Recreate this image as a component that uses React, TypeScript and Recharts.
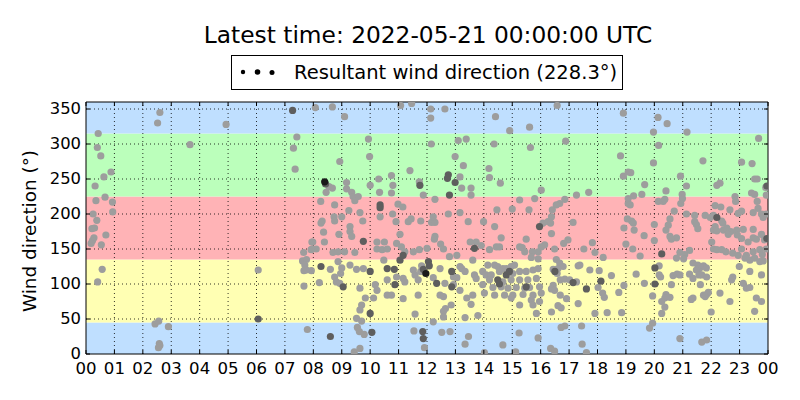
import React from "react";
import { ScatterChart, Scatter, XAxis, YAxis, ReferenceArea, ReferenceLine } from "recharts";

// x axis: hours of the day, y axis: wind direction in degrees
const HOUR_TICKS = [0, 1, 2, 3, 4, 5, 6, 7, 8, 9, 10, 11, 12, 13, 14, 15, 16, 17, 18, 19, 20, 21, 22, 23, 24];
const HOUR_LABELS = ["00", "01", "02", "03", "04", "05", "06", "07", "08", "09", "10", "11", "12", "13", "14", "15", "16", "17", "18", "19", "20", "21", "22", "23", "00"];
const DIR_TICKS = [0, 50, 100, 150, 200, 250, 300, 350];

// sector bands (N, E, S, W, N)
const BAND_LOW = [0, 45, 135, 225, 315];
const BAND_HIGH = [45, 135, 225, 315, 360];
const BAND_COLORS = ["#bfdfff", "#ffffb3", "#ffb3b6", "#bbffbb", "#bfdfff"];

const LEGEND_VALUE = 228.3;

// [hour, direction]
const early: [number, number][] = [
  [0.43, 315], [0.4, 295], [0.52, 283], [0.88, 260], [0.63, 253], [0.32, 240], [0.67, 224], [0.35, 219], [0.93, 217],
  [0.94, 203], [0.25, 200], [0.38, 191], [0.3, 180], [0.21, 179], [0.7, 170], [0.28, 166], [0.23, 162], [0.18, 158],
  [0.54, 156], [0.57, 121], [0.41, 103], [2.6, 345], [2.52, 330], [3.66, 299], [4.93, 328], [2.43, 43], [2.56, 47],
  [2.9, 39], [2.58, 15], [2.6, 12], [2.55, 9], [6.06, 120], [7.42, 310], [7.3, 294], [7.36, 264], [7.98, 160],
  [7.96, 150], [7.66, 145], [7.62, 133], [7.76, 135], [7.7, 127], [7.67, 119], [7.93, 119], [7.76, 120], [7.67, 97],
  [7.79, 35],
];

const morning: [number, number][] = [
  [8.07, 352], [8.67, 353], [9.1, 339], [9.94, 307], [9.98, 282], [8.93, 275], [8.55, 239], [8.67, 237], [8.45, 231],
  [9.17, 245], [9.17, 236], [9.35, 231], [9.4, 225], [9.58, 225], [10.0, 241], [10.3, 250], [10.33, 231], [8.26, 218],
  [8.75, 213], [9.46, 219], [9.25, 205], [9.64, 202], [8.31, 190], [8.27, 187], [8.73, 196], [8.75, 190], [9.0, 196],
  [9.29, 182], [9.29, 175], [9.35, 168], [9.74, 190], [10.35, 196], [8.36, 174], [8.9, 171], [10.24, 160], [10.5, 160],
  [7.95, 160], [8.39, 160], [8.1, 150], [7.92, 149], [8.69, 145], [8.87, 146], [9.1, 146], [9.46, 145], [10.24, 150],
  [10.42, 149], [10.6, 150], [10.48, 134], [8.6, 121], [8.87, 132], [9.0, 123], [8.96, 115], [9.29, 127], [9.52, 121],
  [9.76, 122], [8.21, 102], [8.75, 110], [8.81, 103], [8.93, 101], [9.64, 94], [10.18, 99], [10.24, 91], [10.6, 106],
  [9.83, 80], [10.12, 80], [10.6, 84], [9.7, 70], [9.64, 63], [9.52, 51], [9.7, 47], [9.55, 38], [9.62, 32], [9.79, 28],
  [9.44, 3], [9.64, 8],
];

const midday: [number, number][] = [
  [11.07, 355], [11.46, 358], [12.13, 350], [12.13, 337], [12.63, 350], [13.1, 305], [13.38, 307], [12.15, 300],
  [12.99, 282], [13.28, 269], [11.4, 262], [10.75, 255], [11.73, 246], [13.16, 253], [13.22, 237], [10.8, 241],
  [10.75, 230], [11.87, 227], [12.28, 221], [10.98, 214], [11.15, 210], [13.16, 202], [12.75, 200], [10.79, 200],
  [10.91, 189], [11.34, 189], [11.44, 193], [11.78, 190], [12.16, 188], [12.28, 188], [12.22, 196], [13.45, 189],
  [11.05, 171], [12.28, 168], [12.26, 164], [12.48, 157], [12.58, 150], [13.52, 160], [10.93, 158], [11.1, 153],
  [11.22, 146], [11.52, 146], [11.73, 149], [12.0, 151], [12.79, 139], [13.05, 141], [11.81, 126], [11.78, 118],
  [11.52, 120], [11.58, 113], [11.69, 106], [12.46, 122], [13.16, 125], [13.22, 122], [13.34, 118], [10.93, 110],
  [11.16, 108], [11.22, 103], [12.22, 109], [12.93, 110], [13.05, 109], [12.63, 101], [12.93, 99], [13.16, 91],
  [10.75, 84], [11.16, 79], [11.69, 84], [12.46, 84], [12.58, 82], [12.85, 70], [12.65, 65], [13.4, 80], [11.58, 57],
  [12.22, 46], [12.58, 61], [12.58, 53], [13.34, 52], [11.54, 33], [11.91, 9], [12.52, 31], [12.81, 32], [13.34, 14],
  [13.46, 25],
];

const afternoon: [number, number][] = [
  [14.41, 339], [14.91, 319], [15.61, 324], [14.36, 300], [15.64, 295], [14.18, 265], [14.2, 252], [14.58, 244],
  [13.55, 237], [13.55, 227], [16.02, 234], [15.26, 220], [15.79, 222], [14.46, 206], [15.0, 207], [15.59, 206],
  [13.99, 189], [14.38, 182], [16.08, 187], [16.26, 189], [14.61, 166], [15.49, 164], [13.73, 160], [13.91, 155],
  [14.2, 149], [14.44, 153], [14.55, 153], [15.26, 153], [15.35, 152], [15.44, 146], [15.71, 146], [15.91, 146],
  [16.14, 156], [16.02, 153], [13.61, 134], [15.67, 138], [15.91, 136], [14.14, 127], [14.38, 127], [14.49, 125],
  [14.67, 122], [14.79, 122], [14.96, 125], [15.08, 127], [13.96, 118], [14.08, 113], [14.26, 113], [14.55, 118],
  [15.02, 115], [15.26, 118], [15.49, 118], [15.73, 120], [15.91, 122], [13.67, 113], [13.73, 108], [14.2, 106],
  [14.67, 103], [14.96, 106], [15.26, 106], [15.55, 106], [15.85, 108], [13.96, 99], [14.32, 95], [14.61, 96],
  [14.85, 94], [15.14, 95], [15.44, 94], [15.61, 95], [15.96, 96], [13.61, 84], [14.02, 87], [14.38, 84], [14.73, 84],
  [15.02, 84], [15.38, 85], [15.73, 84], [16.02, 87], [13.55, 71], [14.96, 80], [15.26, 70], [15.67, 77], [15.73, 70],
  [15.96, 75], [13.79, 55], [15.85, 58], [15.24, 30], [15.91, 23], [14.67, 13], [14.02, 2], [15.12, 3],
];

const evening: [number, number][] = [
  [16.58, 355], [18.91, 344], [16.88, 304], [18.81, 283], [18.91, 254], [19.08, 260], [17.26, 227], [17.69, 231],
  [16.85, 221], [16.67, 215], [16.55, 213], [16.41, 206], [19.08, 222], [19.08, 215], [16.38, 196], [16.35, 187],
  [17.14, 188], [18.93, 180], [19.05, 193], [16.38, 172], [16.96, 163], [16.81, 158], [17.82, 159], [16.49, 150],
  [17.52, 150], [17.91, 145], [19.0, 157], [16.55, 135], [16.67, 130], [16.79, 125], [16.61, 122], [16.44, 121],
  [16.49, 120], [16.58, 115], [17.32, 126], [17.38, 127], [17.73, 120], [18.06, 119], [18.2, 138], [18.49, 112],
  [16.69, 106], [16.85, 107], [17.02, 106], [17.26, 103], [16.44, 98], [16.38, 93], [16.49, 91], [18.02, 95],
  [18.18, 87], [18.24, 81], [18.93, 98], [18.75, 88], [16.69, 84], [16.91, 79], [16.61, 69], [16.72, 66], [16.38, 60],
  [17.32, 72], [17.91, 58], [18.34, 59], [18.85, 59], [16.85, 40], [16.72, 38], [17.44, 40], [17.46, 14], [17.61, 2],
  [16.35, 8], [16.49, 4],
];

const night: [number, number][] = [
  [20.13, 338], [20.45, 329], [19.97, 317], [21.15, 317], [20.15, 298], [19.97, 273], [21.71, 276], [19.17, 259],
  [20.92, 254], [19.66, 242], [21.13, 240], [20.41, 233], [19.27, 226], [19.56, 228], [20.98, 228], [20.99, 222],
  [20.14, 218], [20.31, 218], [20.37, 221], [20.93, 215], [19.15, 213], [20.7, 204], [21.13, 200], [21.42, 198],
  [19.2, 190], [19.26, 187], [19.29, 177], [20.0, 185], [20.55, 193], [20.49, 184], [21.42, 189], [21.48, 185],
  [21.53, 179], [20.41, 177], [20.55, 168], [20.78, 166], [20.6, 164], [19.64, 169], [20.0, 162], [19.24, 150],
  [20.9, 145], [21.24, 148], [21.07, 142], [19.5, 140], [20.78, 137], [21.03, 136], [21.36, 130], [21.53, 127],
  [21.59, 122], [21.48, 120], [21.57, 113], [20.17, 126], [20.17, 113], [20.22, 110], [20.66, 112], [20.8, 114],
  [20.9, 113], [21.24, 114], [21.36, 108], [19.36, 114], [19.65, 101], [20.6, 99], [19.94, 83], [20.41, 85], [20.37, 80],
  [20.26, 75], [20.55, 81], [21.36, 80], [21.3, 78], [20.37, 67], [20.26, 58], [19.94, 44], [19.83, 37], [20.9, 22],
];

const late: [number, number][] = [
  [23.67, 308], [23.07, 274], [23.44, 272], [22.31, 244], [22.2, 241], [23.53, 250], [23.62, 250], [23.92, 238],
  [23.42, 230], [23.53, 228], [22.84, 225], [22.86, 218], [23.94, 227], [22.14, 212], [22.34, 210], [23.62, 218],
  [23.65, 208], [22.66, 206], [22.95, 201], [23.07, 204], [21.79, 198], [21.97, 195], [22.08, 198], [23.48, 202],
  [23.77, 200], [23.83, 195], [23.94, 200], [22.37, 190], [22.41, 187], [22.14, 182], [22.08, 177], [22.2, 176],
  [22.43, 177], [22.55, 180], [22.69, 175], [22.6, 171], [22.9, 177], [22.92, 170], [23.13, 178], [23.48, 178],
  [23.07, 165], [23.48, 166], [23.3, 160], [23.59, 164], [23.77, 171], [23.88, 163], [22.02, 160], [22.08, 150],
  [22.2, 149], [22.37, 149], [22.52, 146], [22.76, 144], [22.95, 141], [23.07, 150], [23.24, 141], [23.48, 146],
  [23.71, 149], [23.8, 142], [23.94, 150], [23.19, 137], [23.36, 134], [23.53, 137], [23.71, 132], [23.83, 133],
  [21.73, 126], [21.83, 123], [22.99, 125], [23.36, 118], [23.77, 113], [21.67, 113], [21.84, 110], [22.76, 110],
  [22.72, 106], [21.62, 99], [21.73, 84], [21.84, 85], [21.9, 88], [21.79, 82], [22.31, 87], [23.13, 101], [23.24, 94],
  [23.36, 95], [23.59, 80], [23.77, 75], [22.66, 75], [22.0, 60], [23.53, 61], [21.67, 17], [21.84, 20],
];

// overlapping samples that show up darker
const dense: [number, number][] = [
  [7.27, 348], [6.06, 50], [8.43, 243], [10.35, 213], [10.35, 209], [9.76, 161], [8.27, 125], [10.0, 118], [10.6, 122],
  [9.05, 96], [10.0, 58], [10.06, 31], [8.6, 25], [11.75, 241], [12.75, 256], [12.72, 251], [12.99, 245], [12.79, 227],
  [11.16, 141], [11.05, 134], [12.05, 132], [12.08, 126], [11.87, 121], [10.85, 121], [12.87, 118], [10.87, 99],
  [12.34, 101], [12.87, 96], [11.85, 32], [11.87, 22], [15.96, 182], [13.67, 151], [14.79, 113], [14.49, 106],
  [14.9, 118], [15.49, 96], [14.55, 100], [17.14, 102], [17.61, 93], [18.12, 104], [16.5, 118], [20.26, 143],
  [20.02, 123], [20.02, 100], [22.2, 195], [23.96, 240], [23.96, 165],
];
const densest: [number, number][] = [[8.4, 246], [11.96, 115]];

const toRows = (pts: [number, number][]) => pts.map(([h, d]) => ({ h, d }));
const lightRows = toRows([...early, ...morning, ...midday, ...afternoon, ...evening, ...night, ...late]);
const darkRows = toRows(dense);
const blackRows = toRows(densest);

const FONT = "DejaVu Sans";
const PLOT_W = 682;
const PLOT_H = 252;

const dot = (fill: string) => (p: any) => <circle cx={p.cx} cy={p.cy} r={3.6} fill={fill} />;

function XTick({ x, y, payload }: any) {
  const label = HOUR_LABELS[HOUR_TICKS.indexOf(payload.value)];
  return (
    <g>
      <line x1={x} x2={x} y1={y} y2={y - 4} stroke="#000" />
      <line x1={x} x2={x} y1={y - PLOT_H} y2={y - PLOT_H + 4} stroke="#000" />
      <text x={x} y={y + 20} textAnchor="middle" fontSize={16.6} fontFamily={FONT} fill="#000">{label}</text>
    </g>
  );
}

function YTick({ x, y, payload }: any) {
  return (
    <g>
      <line x1={x} x2={x + 4} y1={y} y2={y} stroke="#000" />
      <line x1={x + PLOT_W} x2={x + PLOT_W - 4} y1={y} y2={y} stroke="#000" />
      <text x={x - 5} y={y + 4.5} textAnchor="end" fontSize={16.4} fontFamily={FONT} fill="#000">{payload.value}</text>
    </g>
  );
}

export default function App() {
  return (
    <div style={{ position: "absolute", left: 0, top: 0, width: 800, height: 400, background: "#fff" }}>
      <ScatterChart width={800} height={400} margin={{ top: 102, right: 32, bottom: 16, left: 46 }}>
        {BAND_LOW.map((lo, i) => (
          <ReferenceArea key={`b${i}`} x1={0} x2={24} y1={lo} y2={BAND_HIGH[i]} fill={BAND_COLORS[i]} fillOpacity={1} stroke="none" />
        ))}
        {HOUR_TICKS.slice(1, -1).map((h) => (
          <ReferenceLine key={`gx${h}`} x={h} stroke="#000" strokeWidth={0.8} strokeDasharray="1 3" />
        ))}
        {DIR_TICKS.slice(1).map((d) => (
          <ReferenceLine key={`gy${d}`} y={d} stroke="#000" strokeWidth={0.8} strokeDasharray="1 3" />
        ))}
        <XAxis
          type="number" dataKey="h" domain={[0, 24]} ticks={HOUR_TICKS} interval={0} height={30}
          tickSize={0} tickMargin={0} tickLine={false} axisLine={false} tick={<XTick />} allowDataOverflow
        />
        <YAxis
          type="number" dataKey="d" domain={[0, 360]} ticks={DIR_TICKS} interval={0} width={40}
          tickSize={0} tickMargin={0} tickLine={false} axisLine={false} tick={<YTick />} allowDataOverflow
        />
        <Scatter data={lightRows} shape={dot("#9d9d9d")} isAnimationActive={false} />
        <Scatter data={darkRows} shape={dot("#5e5e5e")} isAnimationActive={false} />
        <Scatter data={blackRows} shape={dot("#1a1a1a")} isAnimationActive={false} />
        <ReferenceArea x1={0} x2={24} y1={0} y2={360} fill="none" stroke="#000" strokeWidth={1} />
      </ScatterChart>
      <svg width={800} height={400} style={{ position: "absolute", left: 0, top: 0, pointerEvents: "none" }}>
        <text x={428} y={43} textAnchor="middle" fontSize={23.3} fontFamily={FONT} fill="#000">
          Latest time: 2022-05-21 00:00:00 UTC
        </text>
        <rect x={231.5} y={55.5} width={391} height={34} fill="#fff" stroke="#000" strokeWidth={1} />
        <circle cx={243} cy={72} r={2.2} fill="#000" />
        <circle cx={257.5} cy={72} r={2.8} fill="#000" />
        <circle cx={272} cy={72.5} r={2.5} fill="#000" />
        <text x={294} y={78.5} fontSize={19.5} fontFamily={FONT} fill="#000">
          {`Resultant wind direction (${LEGEND_VALUE}°)`}
        </text>
        <text x={0} y={0} transform="translate(36 231) rotate(-90)" textAnchor="middle" fontSize={18.4} fontFamily={FONT} fill="#000">
          Wind direction (°)
        </text>
      </svg>
    </div>
  );
}
